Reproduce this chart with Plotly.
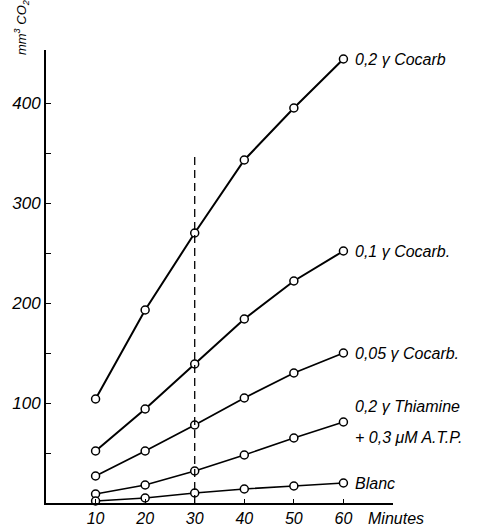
import plotly.graph_objects as go

minutes = [10, 20, 30, 40, 50, 60]
cocarb_02 = [104, 193, 270, 343, 395, 444]
cocarb_01 = [52, 94, 139, 184, 222, 252]
cocarb_005 = [27, 52, 78, 105, 130, 150]
thiamine_atp = [9, 18, 32, 48, 65, 81]
blanc = [2, 5, 10, 14, 17, 20]

series = [
    ("0,2 γ Cocarb", cocarb_02, 2.0),
    ("0,1 γ Cocarb.", cocarb_01, 2.0),
    ("0,05 γ Cocarb.", cocarb_005, 1.8),
    ("0,2 γ Thiamine + 0,3 μM A.T.P.", thiamine_atp, 1.6),
    ("Blanc", blanc, 1.6),
]

label_texts = [
    ("0,2 γ Cocarb", 444),
    ("0,1 γ Cocarb.", 252),
    ("0,05 γ Cocarb.", 150),
    ("0,2 γ Thiamine", 97),
    ("+ 0,3 μM A.T.P.", 66),
    ("Blanc", 20),
]

x_ticks = [10, 20, 30, 40, 50, 60]
y_ticks = [0, 50, 100, 150, 200, 250, 300, 350, 400]
y_labels = ["", "", "100", "", "200", "", "300", "", "400"]

FONT = "Liberation Sans"

fig = go.Figure()

fig.add_shape(type="line", x0=30, x1=30, y0=0, y1=351, xref="x", yref="y",
              line=dict(color="black", width=1.3, dash="8px,5px"))

for name, vals, w in series:
    fig.add_trace(go.Scatter(
        x=minutes, y=vals, mode="lines+markers", name=name,
        line=dict(color="black", width=w),
        marker=dict(symbol="circle", size=8, color="white",
                    line=dict(color="black", width=1.5)),
        cliponaxis=False, showlegend=False))

for txt, yv in label_texts:
    fig.add_annotation(x=62.0, y=yv, xref="x", yref="y", text=txt,
                       showarrow=False, xanchor="left", yanchor="middle",
                       font=dict(family=FONT, size=16, color="black", style="italic"))

fig.add_annotation(x=0.922, y=-0.034, xref="paper", yref="paper", text="Minutes",
                   showarrow=False, xanchor="left", yanchor="middle",
                   font=dict(family=FONT, size=16, color="black", style="italic"))

fig.add_annotation(x=-0.07, y=1.05, xref="paper", yref="paper",
                   text="mm<sup>3</sup> CO<sub>2</sub>",
                   showarrow=False, textangle=-90, xanchor="center", yanchor="middle",
                   font=dict(family=FONT, size=13, color="black", style="italic"))

fig.update_xaxes(range=[0, 70], tickvals=x_ticks, ticktext=[str(v) for v in x_ticks],
                 showline=True, linecolor="black", linewidth=2,
                 ticks="inside", ticklen=4, tickwidth=1.2, tickcolor="black",
                 showgrid=False, zeroline=False, automargin=False,
                 tickfont=dict(family=FONT, size=16, color="black", style="italic"))
fig.update_yaxes(range=[0, 453], tickvals=y_ticks, ticktext=y_labels,
                 showline=True, linecolor="black", linewidth=2,
                 ticks="inside", ticklen=5, tickwidth=1.2, tickcolor="black",
                 showgrid=False, zeroline=False, automargin=False,
                 tickfont=dict(family=FONT, size=17, color="black", style="italic"))

fig.update_layout(width=484, height=529,
                  margin=dict(l=46, r=91, t=50, b=26),
                  paper_bgcolor="white", plot_bgcolor="white")

fig.write_html("out.html")
